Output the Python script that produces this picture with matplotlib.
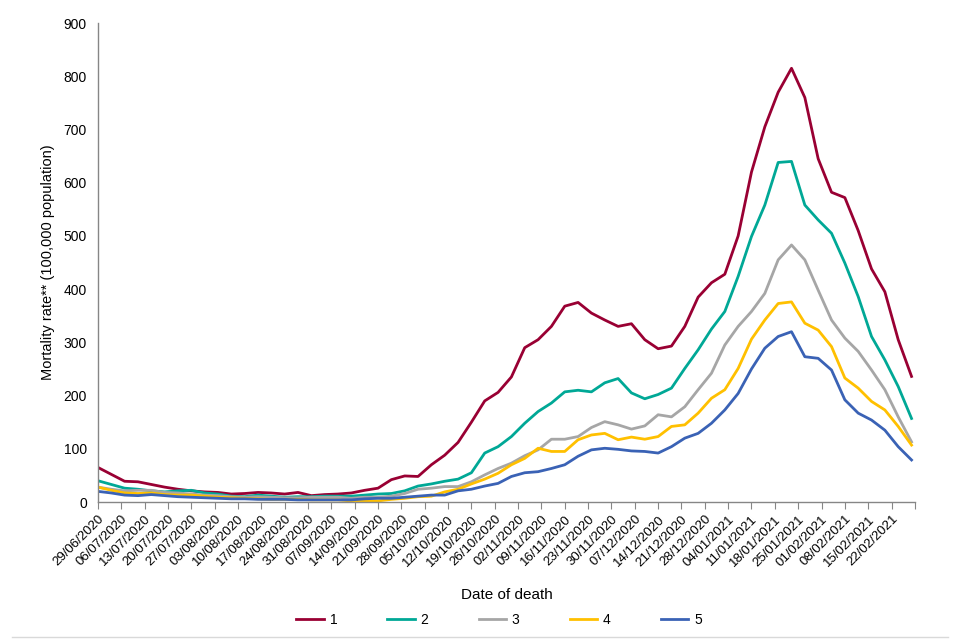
import matplotlib
matplotlib.use('Agg')
import matplotlib.pyplot as plt
from matplotlib.lines import Line2D
import numpy as np
import datetime as dt

plt.rcParams['font.family'] = ['Liberation Sans', 'DejaVu Sans']

# days since 29/06/2020, sampled every 4 days
days = list(range(0, 245, 4))

q1 = [65, 52, 39, 38, 33, 28, 24, 21, 19, 18, 15, 16, 18, 17, 15, 18,
      12, 14, 15, 17, 22, 26, 42, 49, 48, 70, 88, 112, 150, 190, 206, 235,
      290, 305, 330, 368, 375, 355, 342, 330, 335, 305, 288, 293, 330, 385,
      412, 428, 500, 620, 705, 770, 815, 760, 645, 582, 572, 510, 438, 395,
      305, 236]
q2 = [40, 33, 26, 24, 21, 19, 21, 22, 17, 15, 11, 10, 13, 11, 9, 10,
      10, 11, 11, 11, 13, 15, 16, 21, 30, 34, 39, 43, 55, 92, 104, 123,
      148, 170, 186, 207, 210, 207, 224, 232, 205, 194, 202, 214, 251, 286,
      325, 358, 424, 499, 558, 638, 640, 558, 530, 505, 449, 386, 311, 267,
      217, 157]
q3 = [28, 24, 21, 22, 22, 18, 17, 15, 13, 12, 10, 9, 10, 9, 8, 8,
      9, 9, 9, 7, 9, 9, 11, 16, 24, 26, 29, 29, 38, 51, 63, 73,
      87, 98, 118, 118, 123, 140, 151, 145, 137, 143, 164, 160, 179, 211,
      242, 295, 330, 358, 392, 455, 483, 455, 398, 342, 308, 283, 248, 211,
      160, 113]
q4 = [28, 22, 17, 16, 17, 14, 13, 13, 11, 9, 8, 7, 6, 5, 5, 5,
      4, 4, 4, 2, 2, 2, 5, 7, 10, 11, 19, 24, 34, 43, 54, 70,
      82, 101, 95, 95, 117, 126, 129, 117, 122, 118, 123, 142, 145, 167,
      195, 211, 251, 306, 342, 373, 376, 336, 323, 292, 233, 214, 189, 173,
      142, 107]
q5 = [20, 17, 13, 12, 14, 12, 10, 9, 8, 7, 6, 6, 5, 5, 5, 4,
      4, 4, 4, 4, 6, 7, 7, 9, 11, 13, 13, 21, 24, 30, 35, 48,
      55, 57, 63, 70, 86, 98, 101, 99, 96, 95, 92, 104, 120, 129,
      148, 173, 204, 250, 289, 311, 320, 273, 270, 248, 192, 167, 154, 135,
      104, 79]

series = [q1, q2, q3, q4, q5]
names = ['1', '2', '3', '4', '5']
colours = ['#990033', '#00A896', '#A6A6A6', '#FFC000', '#3A62B5']

start = dt.date(2020, 6, 29)
tick_days = list(range(0, 246, 7))
tick_labels = [(start + dt.timedelta(days=d)).strftime('%d/%m/%Y') for d in tick_days[:-1]] + ['']


def main():
	fig = plt.figure(figsize=(9.6, 6.4), dpi=100)
	ax = fig.add_axes([0.102, 0.2156, 0.851, 0.7484])

	for vals, name, col in zip(series, names, colours):
		ax.plot(days, vals, color=col, lw=2.0, label=name)

	ax.set_xlim(0, 245)
	ax.set_ylim(0, 900)
	ax.set_yticks(range(0, 901, 100))
	ax.set_xticks(tick_days)
	ax.set_xticklabels(tick_labels, rotation=45, ha='right', rotation_mode='anchor')

	for s in ['top', 'right']:
		ax.spines[s].set_visible(False)
	for s in ['left', 'bottom']:
		ax.spines[s].set_color('#868686')
		ax.spines[s].set_linewidth(1.0)
	ax.tick_params(axis='y', length=0, pad=8, labelsize=10)
	ax.tick_params(axis='x', length=5, color='#868686', direction='out', pad=3, labelsize=9.5)

	ax.set_ylabel('Mortality rate** (100,000 population)', fontsize=10.5, labelpad=6)
	ax.set_xlabel('Date of death', fontsize=11, labelpad=14)

	ax.legend(loc='center', bbox_to_anchor=(0.491, -0.246), ncol=5, frameon=False,
			fontsize=10, handlelength=2.0, columnspacing=3.6, handletextpad=0.4)

	fig.add_artist(Line2D([0.013, 0.988], [0.005, 0.005], color='#D9D9D9', lw=1.0))

	fig.savefig('out.png', dpi=100)


if __name__ == '__main__':
	main()
